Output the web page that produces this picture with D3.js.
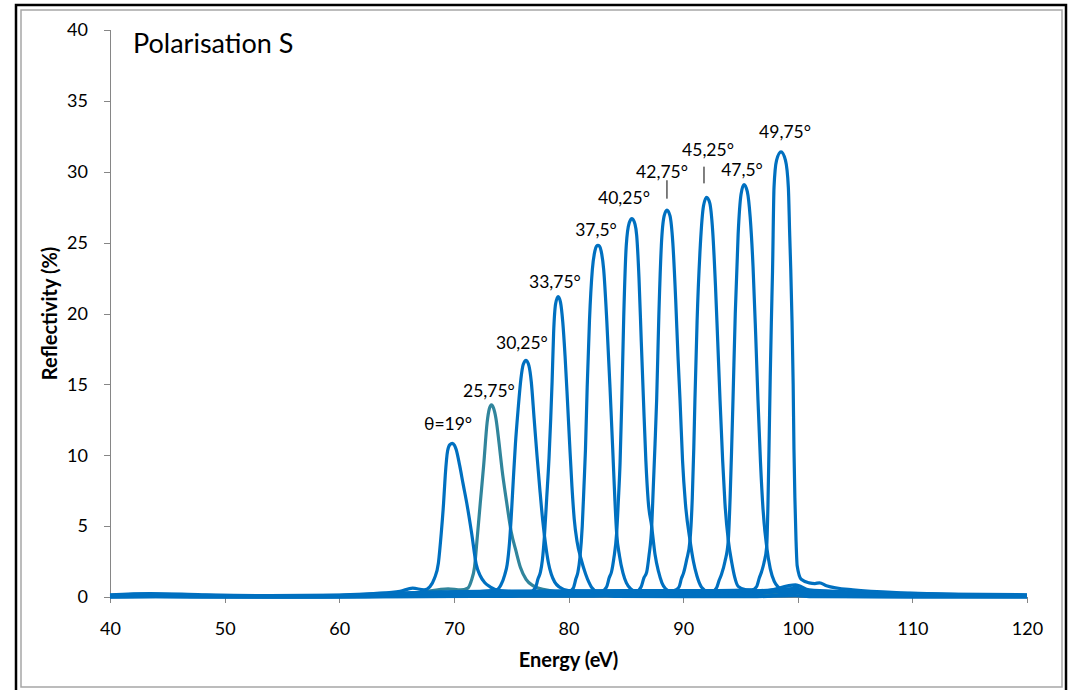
<!DOCTYPE html>
<html lang="en">
<head>
<meta charset="utf-8">
<title>Polarisation S</title>
<style>
  body { margin: 0; background: #fff; }
  svg { display: block; font-family: Lato, "Open Sans", sans-serif; }
  .axis path, .axis line { stroke: #868686; shape-rendering: crispEdges; }
  .axis text { font-family: Lato, sans-serif; font-size: 18px; fill: #000; }
  .curve { fill: none; stroke-width: 3.2; stroke-linejoin: round; }
  .label { font-size: 17.5px; text-anchor: middle; fill: #000; }
  .axis-title { font-size: 20px; font-weight: bold; text-anchor: middle; fill: #000; }
  .title { font-size: 27px; fill: #000; }
</style>
</head>
<body>
<svg width="1072" height="690"></svg>
<script src="https://d3js.org/d3.v7.min.js"></script>
<script>
// [energy eV, reflectivity %], one array per angle
const s19 = [[40,0.12],[43.5,0.2],[48,0.12],[54,0.07],[60,0.12],[63,0.24],[65.3,0.4],[66.4,0.62],[67.4,0.5],[67.9,0.72],[68.3,1.3],[68.65,2.4],[68.9,4.5],[69.1,6.6],[69.25,8.6],[69.45,10.3],[69.65,10.75],[69.87,10.84],[70.05,10.7],[70.2,10.4],[70.5,9.3],[70.8,8.0],[71.13,6.6],[71.55,4.5],[71.95,2.3],[72.3,1.5],[72.7,1.0],[73.15,0.72],[74,0.45],[76,0.35],[80,0.33],[86,0.32],[92,0.3],[96,0.32],[99.8,0.45],[101,0.35],[104,0.28],[108,0.2],[113,0.15],[120,0.12]];
const s2575 = [[40,0.08],[44,0.12],[50,0.06],[56,0.04],[60,0.07],[64,0.15],[67,0.32],[69.5,0.58],[70.6,0.5],[71.2,0.62],[71.5,1.1],[71.8,2.1],[72.05,4.3],[72.3,6.6],[72.6,9.3],[72.9,12.3],[73.1,13.3],[73.28,13.55],[73.45,13.35],[73.67,12.6],[73.95,10.8],[74.2,9.0],[74.6,6.7],[75.0,4.6],[75.4,3.3],[75.8,2.1],[76.3,1.25],[76.9,0.8],[78,0.5],[80,0.3],[86,0.25],[92,0.22],[97,0.22],[100,0.28],[104,0.15],[110,0.1],[120,0.06]];
const s3025 = [[40,0.05],[43.5,0.1],[48,0.05],[54,0.02],[60,0.05],[64,0.14],[68,0.28],[71,0.35],[72.5,0.4],[73.7,0.5],[74.1,0.85],[74.45,1.6],[74.65,2.3],[74.85,3.8],[75.0,5.6],[75.18,8.2],[75.37,10.8],[75.6,13.2],[75.85,15.4],[76.05,16.4],[76.3,16.7],[76.55,16.3],[76.75,15.2],[77.0,12.6],[77.25,10.0],[77.5,7.6],[77.75,5.4],[78.0,3.7],[78.25,2.4],[78.5,1.6],[78.8,1.05],[79.2,0.7],[80,0.45],[82,0.4],[86,0.4],[92,0.4],[96,0.42],[99.8,0.6],[101,0.4],[104,0.3],[108,0.22],[113,0.16],[120,0.12]];
const s3375 = [[40,0.0],[44,0.03],[50,0.0],[60,0.0],[64,0.03],[70,0.05],[75,0.05],[76.6,0.3],[77.1,0.63],[77.35,1.3],[77.55,1.75],[77.72,2.6],[77.9,4.3],[78.1,7.0],[78.3,9.8],[78.45,12.6],[78.57,15.2],[78.7,18.6],[78.88,20.7],[79.1,21.2],[79.3,20.8],[79.5,19.4],[79.7,17.0],[79.9,14.0],[80.1,10.8],[80.3,7.8],[80.5,5.5],[80.75,3.9],[81.09,2.7],[81.5,1.6],[82.0,0.7],[82.6,0.3],[84,0.05],[90,0.02],[96,0.02],[99.8,0.1],[101,0.03],[110,0.0],[120,0.0]];
const s375 = [[40,0.1],[44,0.15],[50,0.1],[56,0.06],[60,0.08],[65,0.12],[70,0.15],[75,0.15],[79,0.2],[80.0,0.35],[80.42,0.63],[80.65,1.3],[80.82,1.75],[81.0,2.8],[81.2,5.0],[81.35,7.8],[81.48,10.4],[81.63,14.8],[81.83,19.5],[82.08,23.1],[82.3,24.4],[82.45,24.75],[82.57,24.8],[82.7,24.75],[82.85,24.4],[83.07,23.1],[83.34,19.5],[83.62,14.8],[83.86,10.4],[84.05,6.8],[84.2,4.5],[84.45,2.9],[84.75,1.7],[85.05,1.0],[85.4,0.6],[86,0.35],[88,0.2],[94,0.15],[99.8,0.45],[101,0.25],[104,0.2],[108,0.14],[113,0.1],[120,0.08]];
const s4025 = [[40,0.03],[43.5,0.08],[48,0.03],[55,0.01],[60,0.03],[65,0.08],[72,0.15],[78,0.2],[81,0.22],[82.9,0.4],[83.32,0.7],[83.55,1.35],[83.76,1.8],[83.95,2.7],[84.2,4.5],[84.35,6.8],[84.5,9.5],[84.65,13.9],[84.82,19.8],[85.04,24.8],[85.3,26.4],[85.54,26.7],[85.8,26.3],[85.95,25.5],[86.15,22.5],[86.35,18.0],[86.54,13.9],[86.75,9.6],[86.95,6.8],[87.26,4.96],[87.55,3.0],[87.85,1.8],[88.15,1.0],[88.45,0.6],[89,0.35],[91,0.2],[96,0.2],[99.8,0.55],[101,0.3],[104,0.2],[108,0.1],[113,0.06],[120,0.04]];
const s4275 = [[40,0.0],[44,0.02],[50,0.0],[60,0.0],[65,0.03],[72,0.05],[80,0.06],[84,0.1],[85.9,0.35],[86.33,0.7],[86.58,1.35],[86.82,1.75],[87.02,2.9],[87.26,4.96],[87.4,7.8],[87.55,10.8],[87.69,13.9],[87.88,19.8],[88.1,24.8],[88.35,26.9],[88.59,27.3],[88.85,26.9],[89.1,25.0],[89.35,21.0],[89.55,17.0],[89.73,13.9],[89.95,9.6],[90.2,6.6],[90.6,4.0],[90.9,2.5],[91.2,1.5],[91.6,0.7],[92.2,0.35],[94,0.08],[97,0.05],[99.8,0.3],[101,0.1],[104,0.04],[110,0.01],[120,0.0]];
const s4525 = [[40,0.16],[43.5,0.24],[48,0.16],[54,0.1],[60,0.14],[64,0.25],[68,0.32],[74,0.35],[82,0.35],[87,0.38],[89.2,0.45],[89.64,0.7],[89.85,1.3],[90.02,1.65],[90.3,2.6],[90.6,4.0],[90.8,7.0],[90.93,10.5],[91.03,13.9],[91.22,19.5],[91.5,24.8],[91.78,27.6],[92.05,28.2],[92.32,27.8],[92.58,25.8],[92.82,22.0],[93.02,18.0],[93.22,13.9],[93.45,9.6],[93.65,6.6],[93.94,4.0],[94.25,2.4],[94.5,1.4],[94.8,0.75],[95.5,0.5],[97,0.42],[99.8,0.85],[101,0.5],[104,0.38],[108,0.28],[113,0.2],[120,0.16]];
const s475 = [[40,0.02],[44,0.06],[50,0.02],[56,0.0],[60,0.02],[66,0.06],[74,0.1],[84,0.1],[90,0.15],[92.5,0.35],[92.92,0.65],[93.15,1.2],[93.35,1.6],[93.65,2.5],[93.94,4.0],[94.1,7.0],[94.23,10.4],[94.35,13.9],[94.55,20.0],[94.8,25.6],[95.05,28.4],[95.31,29.1],[95.6,28.6],[95.85,26.8],[96.1,23.3],[96.33,18.5],[96.53,13.9],[96.75,9.5],[96.97,6.2],[97.29,3.55],[97.6,2.0],[97.95,1.1],[98.3,0.7],[99,0.4],[99.8,0.7],[100.5,0.4],[102,0.3],[105,0.2],[109,0.1],[114,0.05],[120,0.03]];
const s4975 = [[40,0.07],[43.5,0.14],[48,0.07],[55,0.04],[60,0.08],[64,0.2],[68,0.35],[74,0.42],[86,0.45],[93,0.45],[96.0,0.5],[96.41,0.73],[96.65,1.35],[96.85,1.8],[97.05,2.4],[97.29,3.55],[97.4,6.5],[97.49,10.4],[97.6,15.5],[97.7,19.5],[97.8,23.0],[97.93,28.9],[98.15,30.8],[98.54,31.4],[98.93,30.8],[99.18,28.9],[99.3,25.5],[99.39,23.1],[99.5,19.5],[99.6,15.0],[99.67,10.4],[99.75,7.0],[99.85,4.0],[99.95,2.2],[100.3,1.25],[101.0,1.0],[101.5,0.95],[101.9,1.0],[102.5,0.8],[104.8,0.5],[109.8,0.28],[113.5,0.18],[120,0.1]];

const series = [s2575, s19, s3025, s3375, s375, s4025, s4275, s4525, s475, s4975];
const seriesColors = ["#31859c", "#0070c0", "#0070c0", "#0070c0", "#0070c0", "#0070c0", "#0070c0", "#0070c0", "#0070c0", "#0070c0"];

// angle labels, placed in data units
const labelText = ["\u03b8=19\u00b0", "25,75\u00b0", "30,25\u00b0", "33,75\u00b0", "37,5\u00b0", "40,25\u00b0", "42,75\u00b0", "45,25\u00b0", "47,5\u00b0", "49,75\u00b0"];
const labelE = [69.49, 73.06, 75.94, 78.82, 82.40, 84.84, 88.16, 92.17, 95.14, 98.89];
const labelR = [12.20, 14.53, 17.92, 22.22, 25.89, 28.15, 29.98, 31.53, 30.12, 32.80];
// short leader lines [energy, R top, R bottom]
const leaders = [[88.59, 29.4, 28.1], [91.82, 30.36, 29.18]];

const xTicks = [40, 50, 60, 70, 80, 90, 100, 110, 120];
const yTicks = [0, 5, 10, 15, 20, 25, 30, 35, 40];

var svg = d3.select("svg");
const LEFT = 110, TOP = 30, RIGHT = 1027, BOTTOM = 597;

// chart frame
svg.append("rect")
  .attr("x", 16).attr("y", 5).attr("width", 1050).attr("height", 690)
  .attr("fill", "#fff").attr("stroke", "#000").attr("stroke-width", 2.5);
svg.append("rect")
  .attr("x", 21).attr("y", 10).attr("width", 1041).attr("height", 677)
  .attr("fill", "none").attr("stroke", "#a6a6a6").attr("stroke-width", 1.5);

var x = d3.scaleLinear().domain([40, 120]).range([LEFT, RIGHT]);
var y = d3.scaleLinear().domain([0, 40]).range([BOTTOM, TOP]);

svg.append("g")
  .attr("class", "axis")
  .attr("transform", "translate(0," + BOTTOM + ")")
  .call(d3.axisBottom(x).tickValues(xTicks).tickSizeOuter(0).tickSize(6).tickPadding(19));

svg.append("g")
  .attr("class", "axis")
  .attr("transform", "translate(" + LEFT + ",0)")
  .call(d3.axisLeft(y).tickValues(yTicks).tickSizeOuter(0).tickSize(6).tickPadding(16));

var line = d3.line()
  .x(d => x(d[0]))
  .y(d => y(d[1]))
  .curve(d3.curveMonotoneX);

svg.append("g")
  .selectAll("path")
  .data(series)
  .enter()
  .append("path")
  .attr("class", "curve")
  .attr("stroke", (d, i) => seriesColors[i])
  .attr("d", line);

svg.append("g")
  .selectAll("line")
  .data(leaders)
  .enter()
  .append("line")
  .attr("x1", d => x(d[0])).attr("x2", d => x(d[0]))
  .attr("y1", d => y(d[1])).attr("y2", d => y(d[2]))
  .attr("stroke", "#000").attr("stroke-width", 1);

svg.append("g")
  .selectAll("text")
  .data(labelText)
  .enter()
  .append("text")
  .attr("class", "label")
  .attr("x", (d, i) => x(labelE[i]))
  .attr("y", (d, i) => y(labelR[i]))
  .attr("dy", "0.35em")
  .text(d => d);

svg.append("text")
  .attr("class", "title")
  .attr("x", 133)
  .attr("y", 53)
  .text("Polarisation S");

svg.append("text")
  .attr("class", "axis-title")
  .attr("x", (LEFT + RIGHT) / 2)
  .attr("y", 667)
  .text("Energy (eV)");

svg.append("text")
  .attr("class", "axis-title")
  .attr("transform", "rotate(-90)")
  .attr("x", -(TOP + BOTTOM) / 2)
  .attr("y", 57)
  .text("Reflectivity (%)");
</script>
</body>
</html>
